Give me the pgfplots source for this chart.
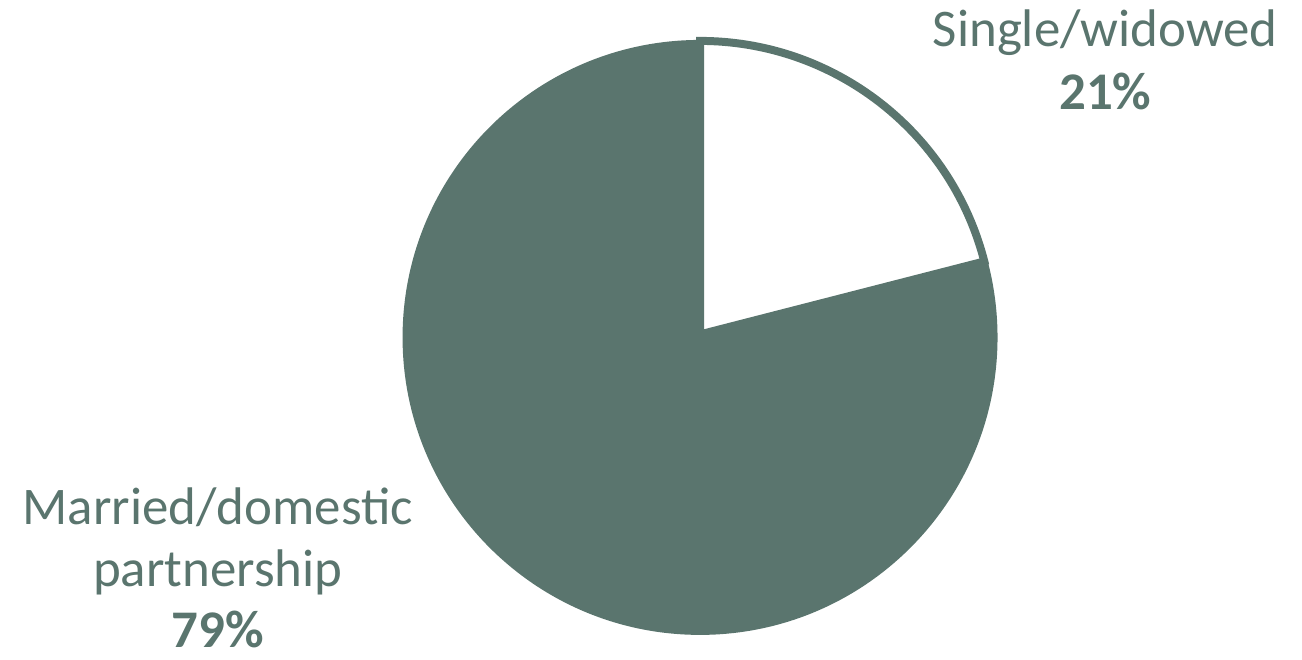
\documentclass[border=0pt]{standalone}
\usepackage{pgfplots}
\pgfplotsset{compat=1.18}
\usepackage{pgfplotstable}
\usepackage{fontspec}
\setmainfont{Carlito}
\definecolor{pie}{RGB}{90,117,110}
\pgfplotstableread{
label value
Single 21
Married 79
}\piedata
\begin{document}
\pgfplotstablegetelem{0}{value}\of\piedata
\let\vA\pgfplotsretval
\pgfplotstablegetelem{1}{value}\of\piedata
\let\vB\pgfplotsretval
\pgfmathsetmacro\angA{90-3.6*\vA}
\begin{tikzpicture}
\begin{axis}[
  width=1302pt, height=661pt, scale only axis,
  xmin=0, xmax=1302, ymin=0, ymax=661,
  hide axis, clip=false,
]
\path (axis cs:0,0) rectangle (axis cs:1302,661);
% big slice (full disc)
\fill[pie] (axis cs:699,323) circle[radius=298];
% small slice
\filldraw[fill=white, draw=pie, line width=8pt, line join=miter]
  (axis cs:699,326) -- ++(90:294pt) arc[start angle=90, end angle=\angA, radius=294pt] -- cycle;
\node[anchor=base, text=pie, font=\fontsize{53}{64}\selectfont] at (axis cs:1105,614) {Single/widowed};
\node[anchor=base, text=pie, font=\fontsize{53}{64}\selectfont\bfseries] at (axis cs:1105,551) {\vA\%};
\node[anchor=base, text=pie, font=\fontsize{53}{64}\selectfont] at (axis cs:216,136) {Married/domestic};
\node[anchor=base, text=pie, font=\fontsize{53}{64}\selectfont] at (axis cs:216,73) {partnership};
\node[anchor=base, text=pie, font=\fontsize{53}{64}\selectfont\bfseries] at (axis cs:216,12) {\vB\%};
\end{axis}
\end{tikzpicture}
\end{document}
